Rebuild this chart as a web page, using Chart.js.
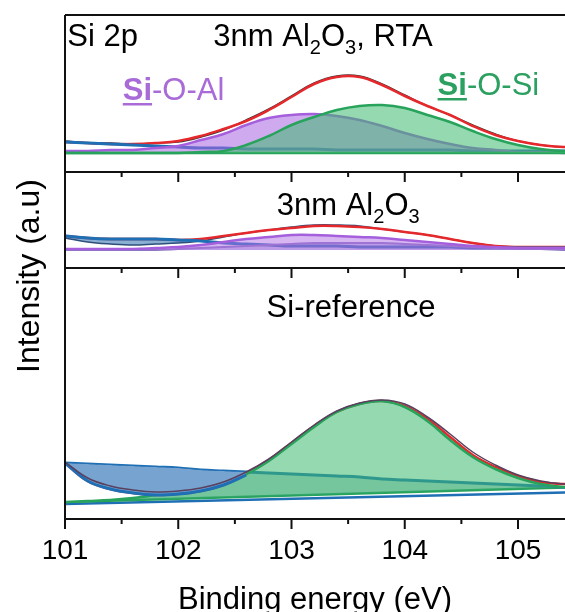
<!DOCTYPE html>
<html>
<head>
<meta charset="utf-8">
<title>Si 2p XPS</title>
<script src="https://cdn.jsdelivr.net/npm/chart.js@4.4.1/dist/chart.umd.min.js"></script>
<style>
  html, body { margin: 0; padding: 0; background: #fff; }
</style>
</head>
<body>
<canvas id="xps_chart" width="565" height="612"></canvas>
<script>
/*
    Si 2p spectra, three stacked panels sharing one energy axis.
    Intensities are arbitrary units per panel.
*/

var FONT = "'Liberation Sans', Arial, sans-serif";
Chart.defaults.font.family = FONT;
Chart.defaults.color = '#000';


// energy grid (eV) shared by all curves
var energy = [101.0, 101.2, 101.4, 101.6, 101.8, 102.0, 102.2, 102.4, 102.6, 102.8, 103.0, 103.2,
              103.4, 103.6, 103.8, 104.0, 104.2, 104.4, 104.6, 104.8, 105.0, 105.2, 105.4, 105.6];
var energyLow = [101.0, 101.2, 101.4, 101.6, 101.8, 102.0, 102.2, 102.4, 102.6];
var energyEnds = [101.0, 105.6];
var tickLabels = [101, 102, 103, 104, 105];

// panel 1 : 3nm Al2O3, RTA
var rta_envelope = [30, 29, 28, 28, 29, 31, 36, 43, 51, 62, 75, 88, 95, 95, 87, 76, 66, 57, 46, 37, 31, 27, 25, 24];
var rta_raw      = [31, 29, 29, 28, 29, 30, 35, 42, 52, 63, 76, 89, 96, 96, 88, 77, 66, 57, 47, 38, 31, 27, 25, 24];
var rta_sioal    = [21, 21, 22, 22, 24, 26, 32, 38, 47, 54, 57, 58, 56, 52, 46, 39, 33, 28, 24, 22, 20, 20, 19, 19];
var rta_siosi    = [19, 19, 19, 19, 19, 19, 20, 21, 27, 36, 47, 55, 62, 66, 67, 64, 57, 50, 41, 33, 27, 23, 21, 20];
var rta_bg       = [30, 29, 28, 27, 26, 25, 24, 24, 23, 23, 23, 23, 22, 22, 22, 22, 22, 22, 21, 21, 21, 21, 21, 21];
var rta_base     = [19, 19];

// panel 2 : 3nm Al2O3
var al_envelope = [32, 30, 29, 29, 29, 28, 29, 32, 35, 38, 40, 42, 42, 41, 39, 36, 33, 29, 25, 22, 21, 21, 21, 21];
var al_raw      = [30, 26, 24, 23, 24, 25, 27, 31, 35, 38, 41, 43, 43, 42, 39, 36, 33, 29, 25, 22, 21, 21, 21, 21];
var al_sioal    = [19, 19, 19, 19, 20, 21, 23, 26, 29, 31, 33, 33, 32, 31, 30, 28, 26, 24, 22, 21, 20, 20, 20, 20];
var al_second   = [18, 18, 18, 18, 18, 19, 20, 21, 22, 23, 24, 25, 25, 25, 25, 24, 23, 22, 21, 20, 19, 19, 18, 18];
var al_bg       = [32, 30, 29, 29, 29, 28, 27, 25, 24, 23, 22, 22, 22, 21, 21, 21, 21, 21, 20, 20, 20, 20, 20, 20];

// panel 3 : Si reference
var ref_envelope = [56, 38, 30, 26, 24, 25, 28, 34, 45, 59, 76, 93, 107, 115, 118, 113, 100, 82, 64, 52, 43, 37, 35, 34];
var ref_raw      = [57, 41, 33, 29, 27, 28, 31, 37, 47, 60, 77, 94, 108, 116, 119, 115, 102, 85, 67, 54, 44, 38, 35, 34];
var ref_dip      = [56, 38, 30, 26, 24, 25, 28, 34, 44];
var ref_siosi    = [17, 18, 19, 21, 24, 27, 31, 37, 45, 58, 75, 92, 107, 115, 118, 112, 98, 79, 62, 50, 41, 35, 32, 32];
var ref_shirley  = [56, 55, 54, 53, 52, 51, 49, 48, 47, 46, 45, 44, 43, 42, 40, 39, 38, 37, 36, 35, 34, 33, 32, 31];
var ref_base     = [17, 32];
var ref_bottom   = [15, 27];


var RED = '#e4282b', DARK = '#3a3a3a', BLUE = '#1f6fb4', GREEN = '#27a35b', PURPLE = '#a55fdc';
var BLUE_FILL = 'rgba(40,110,175,0.55)';
var GREEN_FILL = 'rgba(60,185,110,0.55)';
var PURPLE_FILL = 'rgba(170,100,225,0.55)';
var NONE = 'rgba(0,0,0,0)';

function pts(xs, ys) {
    return ys.map(function(y, i) { return {x: xs[i], y: y}; });
}

// datasets listed top-most first (index 0 is drawn last)
var sets = [];
function addLine(name, axis, xs, ys, color, width, fill, fillColor) {
    sets.push({
        label: name,
        yAxisID: axis,
        data: pts(xs, ys),
        borderColor: color,
        borderWidth: width,
        backgroundColor: fillColor || NONE,
        fill: fill || false,
    });
}

addLine('siosi_rta', 'y1', energy, rta_siosi, GREEN, 2.5, {value: 19}, GREEN_FILL);
addLine('base_rta', 'y1', energyEnds, rta_base, GREEN, 2.5);
addLine('sioal_rta', 'y1', energy, rta_sioal, PURPLE, 2.5, {value: 19}, PURPLE_FILL);
addLine('bg_rta', 'y1', energy, rta_bg, BLUE, 3);
addLine('env_rta', 'y1', energy, rta_envelope, RED, 2.5);
addLine('raw_rta', 'y1', energy, rta_raw, DARK, 1.5);

addLine('sioal_al', 'y2', energy, al_sioal, PURPLE, 2.5, {value: 18}, 'rgba(175,110,230,0.5)');
addLine('second_al', 'y2', energy, al_second, '#8a78c0', 2, {value: 18}, 'rgba(110,100,190,0.35)');
addLine('bg_al', 'y2', energy, al_bg, BLUE, 3);
addLine('env_al', 'y2', energy, al_envelope, RED, 2.5);
addLine('raw_al', 'y2', energy, al_raw, '#2f4f7a', 1.5, {target: 'bg_al', above: NONE, below: BLUE_FILL});

addLine('raw_ref', 'y3', energy, ref_raw, '#5a3f5f', 1.5);
addLine('dip_ref', 'y3', energyLow, ref_dip, BLUE, 3, {target: 'shirley_ref', above: NONE, below: 'rgb(118,163,207)'});
addLine('siosi_ref', 'y3', energy, ref_siosi, GREEN, 2.5, {target: 'base_ref'}, GREEN_FILL);
addLine('env_ref', 'y3', energy, ref_envelope, RED, 2.5, {target: 'siosi_ref', above: '#ffffff', below: NONE});
addLine('shirley_ref', 'y3', energy, ref_shirley, BLUE, 3, {target: 'base_ref'}, 'rgba(25,110,120,0.3)');
addLine('base_ref', 'y3', energyEnds, ref_base, GREEN, 2.5);
addLine('bottom_ref', 'y3', energyEnds, ref_bottom, BLUE, 2.5);

// turn named fill targets into dataset indexes
var names = sets.map(function(s) { return s.label; });
sets.forEach(function(s) {
    if (s.fill && typeof s.fill.target === 'string') {
        s.fill.target = names.indexOf(s.fill.target);
    }
});


// panel texts
var notes = [
    {axis: 'y1', x: 101.02, y: 126, color: '#000', parts: [{t: 'Si 2p'}]},
    {axis: 'y1', x: 102.31, y: 126, color: '#000',
        parts: [{t: '3nm Al'}, {t: '2', sub: true}, {t: 'O'}, {t: '3', sub: true}, {t: ', RTA'}]},
    {axis: 'y1', x: 101.51, y: 72, color: '#a86bd8', parts: [{t: 'Si', bold: true, line: true}, {t: '-O-Al'}]},
    {axis: 'y1', x: 104.29, y: 77, color: '#2ba060', parts: [{t: 'Si', bold: true, line: true}, {t: '-O-Si'}]},
    {axis: 'y2', x: 102.87, y: 53, color: '#000',
        parts: [{t: '3nm Al'}, {t: '2', sub: true}, {t: 'O'}, {t: '3', sub: true}]},
    {axis: 'y3', x: 102.78, y: 202, color: '#000', parts: [{t: 'Si-reference'}]},
];

function drawRich(ctx, x, y, parts, size, color) {
    var cx = x;
    ctx.fillStyle = color;
    ctx.textBaseline = 'alphabetic';
    ctx.textAlign = 'left';
    parts.forEach(function(p) {
        var s = p.sub ? Math.round(size * 0.66) : size;
        ctx.font = (p.bold ? 'bold ' : '') + s + 'px ' + FONT;
        ctx.fillText(p.t, cx, y + (p.sub ? size * 0.27 : 0));
        var w = ctx.measureText(p.t).width;
        if (p.line) ctx.fillRect(cx, y + 3, w, 2.5);
        cx += w;
    });
}

var panelFrame = {
    id: 'panelFrame',
    afterDraw: function(chart) {
        var ctx = chart.ctx, xs = chart.scales.x;
        var panels = ['y1', 'y2', 'y3'].map(function(id) { return chart.scales[id]; });

        ctx.save();
        ctx.strokeStyle = '#111';
        ctx.lineWidth = 2;
        ctx.beginPath();
        ctx.moveTo(xs.left, panels[0].top);
        ctx.lineTo(xs.left, panels[2].bottom);
        panels.forEach(function(p) {
            ctx.moveTo(xs.left, p.top);
            ctx.lineTo(xs.right, p.top);
            ctx.moveTo(xs.left, p.bottom);
            ctx.lineTo(xs.right, p.bottom);
            xs.ticks.forEach(function(t) {
                var px = xs.getPixelForValue(t.value);
                var len = Number.isInteger(t.value) ? 10 : 5;
                ctx.moveTo(px, p.bottom);
                ctx.lineTo(px, p.bottom + len);
            });
        });
        ctx.stroke();

        notes.forEach(function(n) {
            drawRich(ctx, xs.getPixelForValue(n.x), chart.scales[n.axis].getPixelForValue(n.y), n.parts, 31, n.color);
        });

        // shared y title
        ctx.translate(30, (panels[0].top + panels[2].bottom) / 2 + 9);
        ctx.rotate(-Math.PI / 2);
        ctx.font = '32px ' + FONT;
        ctx.fillStyle = '#000';
        ctx.textAlign = 'center';
        ctx.textBaseline = 'middle';
        ctx.fillText('Intensity (a.u)', 0, 0);
        ctx.restore();
    },
};

function panelAxis(maxVal) {
    return {
        type: 'linear',
        position: 'left',
        stack: 'xps',
        stackWeight: maxVal,
        min: 0,
        max: maxVal,
        ticks: { display: false },
        grid: { display: false, drawTicks: false },
        border: { display: false },
        afterFit: function(s) { s.width = 0; },
    };
}


var ctx = document.getElementById('xps_chart').getContext('2d');

var xps_chart = new Chart(ctx, {
    type: 'line',
    data: { datasets: sets },
    options: {
        responsive: false,
        animation: false,
        layout: { padding: { left: 65, right: 0, top: 15, bottom: 0 } },
        elements: {
            point: { radius: 0 },
            line: { tension: 0.4 },
        },
        plugins: {
            legend: { display: false },
            tooltip: { enabled: false },
        },
        scales: {
            x: {
                type: 'linear',
                position: 'bottom',
                min: 101,
                max: 105.415,
                ticks: {
                    stepSize: 0.5,
                    includeBounds: false,
                    autoSkip: false,
                    maxRotation: 0,
                    padding: 5,
                    color: '#000',
                    font: { size: 28 },
                    callback: function(v) { return tickLabels.indexOf(v) >= 0 ? String(v) : ''; },
                },
                grid: { display: true, drawOnChartArea: false, drawTicks: true, tickLength: 10, color: NONE },
                border: { display: false },
                title: {
                    display: true,
                    text: 'Binding energy (eV)',
                    color: '#000',
                    font: { size: 31, lineHeight: 0.75 },
                    padding: { top: 0, bottom: 0 },
                },
                afterFit: function(s) { s.height = 93; },
            },
            y3: panelAxis(251),
            y2: panelAxis(96),
            y1: panelAxis(157),
        },
    },
    plugins: [panelFrame],
});
</script>
</body>
</html>
